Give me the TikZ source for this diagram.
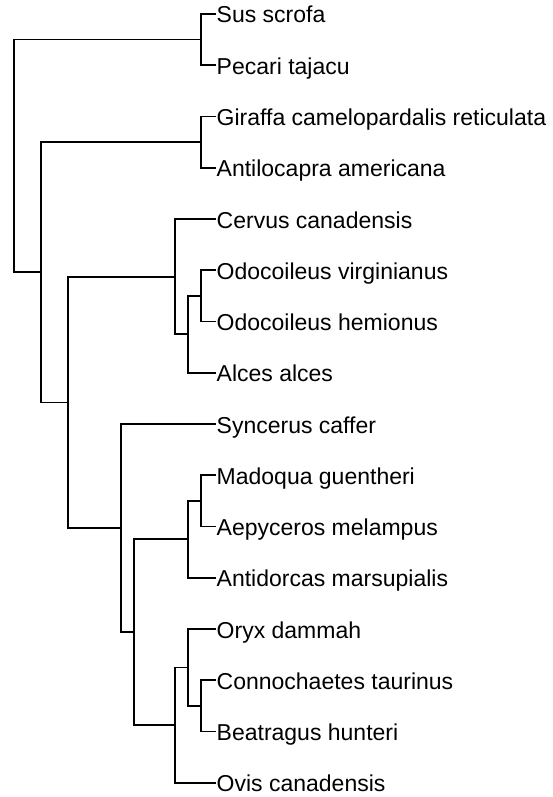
\documentclass[tikz,border=0pt]{standalone}
\usepackage{fontspec}
\setmainfont{Liberation Sans}
\begin{document}
\begin{tikzpicture}[x=1pt,y=-1pt,
  branch/.style={line width=1.7pt,black},
  lbl/.style={anchor=base west,inner sep=0pt,xshift=0.5pt,yshift=-9pt,font=\fontsize{23}{27}\selectfont}]
\useasboundingbox (0,0) rectangle (552,797);
% leaf tips
\coordinate (l1) at (216,14);
\coordinate (l2) at (216,65.25);
\coordinate (l3) at (216,116.5);
\coordinate (l4) at (216,167.75);
\coordinate (l5) at (216,219);
\coordinate (l6) at (216,270.25);
\coordinate (l7) at (216,321.5);
\coordinate (l8) at (216,372.75);
\coordinate (l9) at (216,424);
\coordinate (l10) at (216,475.25);
\coordinate (l11) at (216,526.5);
\coordinate (l12) at (216,577.75);
\coordinate (l13) at (216,629);
\coordinate (l14) at (216,680.25);
\coordinate (l15) at (216,731.5);
\coordinate (l16) at (216,782.75);
% labels
\node[lbl] (t1) at (l1) {Sus scrofa};
\node[lbl] (t2) at (l2) {Pecari tajacu};
\node[lbl] (t3) at (l3) {Giraffa camelopardalis reticulata};
\node[lbl] (t4) at (l4) {Antilocapra americana};
\node[lbl] (t5) at (l5) {Cervus canadensis};
\node[lbl] (t6) at (l6) {Odocoileus virginianus};
\node[lbl] (t7) at (l7) {Odocoileus hemionus};
\node[lbl] (t8) at (l8) {Alces alces};
\node[lbl] (t9) at (l9) {Syncerus caffer};
\node[lbl] (t10) at (l10) {Madoqua guentheri};
\node[lbl] (t11) at (l11) {Aepyceros melampus};
\node[lbl] (t12) at (l12) {Antidorcas marsupialis};
\node[lbl] (t13) at (l13) {Oryx dammah};
\node[lbl] (t14) at (l14) {Connochaetes taurinus};
\node[lbl] (t15) at (l15) {Beatragus hunteri};
\node[lbl] (t16) at (l16) {Ovis canadensis};
% internal nodes
\coordinate (a) at (201,39.625);
\coordinate (b) at (201,142.125);
\coordinate (g) at (201,295.875);
\coordinate (f) at (188.3,334.3);
\coordinate (e) at (175,276.65);
\coordinate (m) at (201,500.875);
\coordinate (j) at (188.3,539.3);
\coordinate (o) at (201,705.875);
\coordinate (n) at (188.3,667.44);
\coordinate (k) at (175,725.1);
\coordinate (i) at (134.3,632.2);
\coordinate (h) at (121,528.1);
\coordinate (d) at (67.7,402.4);
\coordinate (c) at (40.7,272.3);
\coordinate (r) at (14,155.96);
% branches
\draw[branch] (a) |- (l1); \draw[branch] (a) |- (l2);
\draw[branch] (b) |- (l3); \draw[branch] (b) |- (l4);
\draw[branch] (g) |- (l6); \draw[branch] (g) |- (l7);
\draw[branch] (f) |- (g);  \draw[branch] (f) |- (l8);
\draw[branch] (e) |- (l5); \draw[branch] (e) |- (f);
\draw[branch] (m) |- (l10); \draw[branch] (m) |- (l11);
\draw[branch] (j) |- (m);  \draw[branch] (j) |- (l12);
\draw[branch] (o) |- (l14); \draw[branch] (o) |- (l15);
\draw[branch] (n) |- (l13); \draw[branch] (n) |- (o);
\draw[branch] (k) |- (n);  \draw[branch] (k) |- (l16);
\draw[branch] (i) |- (j);  \draw[branch] (i) |- (k);
\draw[branch] (h) |- (l9); \draw[branch] (h) |- (i);
\draw[branch] (d) |- (e);  \draw[branch] (d) |- (h);
\draw[branch] (c) |- (b);  \draw[branch] (c) |- (d);
\draw[branch] (r) |- (a);  \draw[branch] (r) |- (c);
\end{tikzpicture}
\end{document}
